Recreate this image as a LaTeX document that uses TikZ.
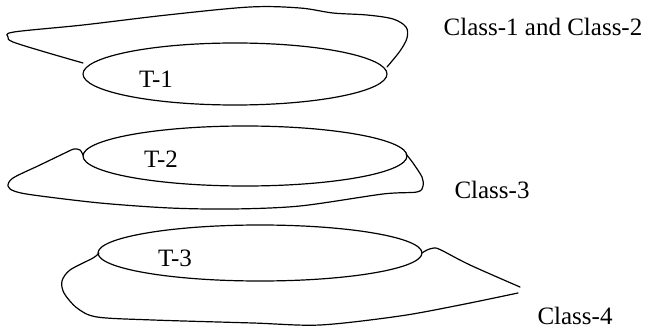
\documentclass[tikz,border=0pt]{standalone}
\usepackage{fontspec}
\setmainfont{Liberation Serif}
\begin{document}
\begin{tikzpicture}[x=1pt,y=-1pt,
  outline/.style={line width=1.2pt,line join=round,line cap=round},
  lbl/.style={font=\fontsize{25}{29}\selectfont,inner sep=0pt}]
\useasboundingbox (0,0) rectangle (646,329);

% tier 1: ellipse and its surrounding class region
\draw[outline] (235,74) ellipse [x radius=152, y radius=31];
\node[lbl] (t1) at (156,79) {T-1};
\draw[outline] plot[smooth,tension=0.55] coordinates {
  (83,63) (45,52) (13,42) (8,37) (14,32) (83,25) (167,15) (250,7)
  (300,8) (333,13) (367,15) (393,19) (406,27) (407,38) (400,51) (387,67)};
\node[lbl] (c12) at (543,27) {Class-1 and Class-2};

% tier 2
\draw[outline] (245,156) ellipse [x radius=162, y radius=30];
\node[lbl] (t2) at (161,159) {T-2};
\draw[outline] plot[smooth,tension=0.5] coordinates {
  (83,155) (80,150) (74,149) (67,152) (40,165) (13,178) (8,186) (14,191)
  (33,195) (100,203) (170,208) (233,209) (300,206) (383,194) (417,192)
  (423,186) (422,177) (413,163) (406,154)};
\node[lbl] (c3) at (492,190) {Class-3};

% tier 3
\draw[outline] (260,253) ellipse [x radius=162, y radius=28];
\node[lbl] (t3) at (175,258) {T-3};
\draw[outline] plot[smooth,tension=0.5] coordinates {
  (422,253) (427,250) (434,248) (441,250) (470,265) (520,287)};
\draw[outline] plot[smooth,tension=0.5] coordinates {
  (99,253) (93,258) (70,270) (62,281) (64,293) (77,308) (97,317)
  (153,320) (253,323) (320,325) (400,316) (460,305) (518,293)};
\node[lbl] (c4) at (575,316) {Class-4};
\end{tikzpicture}
\end{document}
